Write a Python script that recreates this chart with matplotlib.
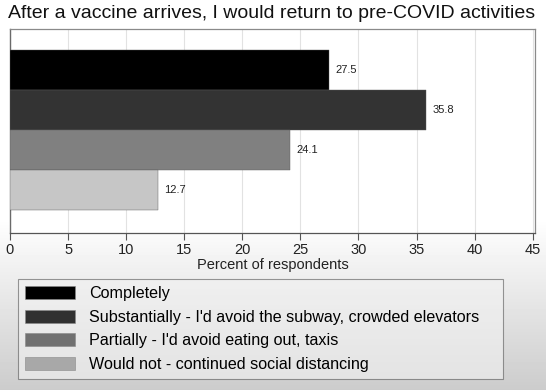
import numpy as np
import matplotlib.pyplot as plt
from matplotlib.patches import Patch

plt.rcParams['font.family'] = ['Liberation Sans', 'DejaVu Sans']

categories = ["Completely",
              "Substantially - I'd avoid the subway, crowded elevators",
              "Partially - I'd avoid eating out, taxis",
              "Would not - continued social distancing"]
values = [27.5, 35.8, 24.1, 12.7]
bar_colors = ['#000000', '#333333', '#808080', '#c6c6c6']
legend_colors = ['#000000', '#303030', '#707070', '#a8a8a8']
xticks = [0, 5, 10, 15, 20, 25, 30, 35, 40, 45]

fig = plt.figure(figsize=(5.46, 3.9), dpi=100)

# background: white on top, fading to grey at the bottom
bg = fig.add_axes([0, 0, 1, 1], zorder=-10)
rows = np.linspace(0, 1, 390)
shade = np.where(rows < 0.56, 1.0, 1.0 - (rows - 0.56) / 0.44 * 0.2)
bg.imshow(np.tile(shade[:, None], (1, 10)), cmap='gray', vmin=0, vmax=1,
          aspect='auto', extent=[0, 1, 1, 0])
bg.set_axis_off()

ax = fig.add_axes([10 / 546, 1 - 233 / 390, 525 / 546, 204 / 390])
ax.set_facecolor('white')
ypos = np.arange(len(values))[::-1]
ax.barh(ypos, values, height=1.0, color=bar_colors, edgecolor='#5a5a5a',
        linewidth=0.3, zorder=3)
for y, v in zip(ypos, values):
    ax.text(v + 0.55, y, f'{v:.1f}', va='center', ha='left', fontsize=8,
            color='#222222', zorder=4)

ax.set_xlim(0, 45.2)
ax.set_ylim(-1.08, 4.03)
ax.set_xticks(xticks)
ax.set_xticklabels([str(t) for t in xticks], fontsize=10.5, color='#222222')
ax.set_yticks([])
ax.grid(axis='x', color='#e2e2e2', linewidth=0.8, zorder=0)
ax.tick_params(axis='x', length=5, width=0.8, color='#555555', pad=2)
for s in ['top', 'right']:
    ax.spines[s].set_color('#8a8a8a')
    ax.spines[s].set_linewidth(0.9)
ax.spines['left'].set_color('#6a6a6a')
ax.spines['left'].set_linewidth(1.0)
ax.spines['bottom'].set_color('#555555')
ax.spines['bottom'].set_linewidth(0.9)
ax.set_xlabel('Percent of respondents', fontsize=10.5, color='#222222', labelpad=1)

fig.text(8 / 546, 1 - 14 / 390, 'After a vaccine arrives, I would return to pre-COVID activities',
         fontsize=14.0, va='center', ha='left', color='#111111')

handles = [Patch(facecolor=c, edgecolor='#888888', linewidth=0.4) for c in legend_colors]
leg = fig.legend(handles, categories, loc='upper left', mode='expand',
                 bbox_to_anchor=(18 / 546, 1 - 279 / 390, 485 / 546, 0.0), fontsize=11.6,
                 frameon=True, fancybox=False, handlelength=3.1, handleheight=0.87,
                 handletextpad=0.87, labelspacing=0.52, borderpad=0.45,
                 borderaxespad=0)
leg.get_frame().set_edgecolor('#555555')
leg.get_frame().set_facecolor('#f2f2f2')
leg.get_frame().set_alpha(0.6)
leg.get_frame().set_linewidth(0.8)

fig.savefig('out.png', dpi=100)
